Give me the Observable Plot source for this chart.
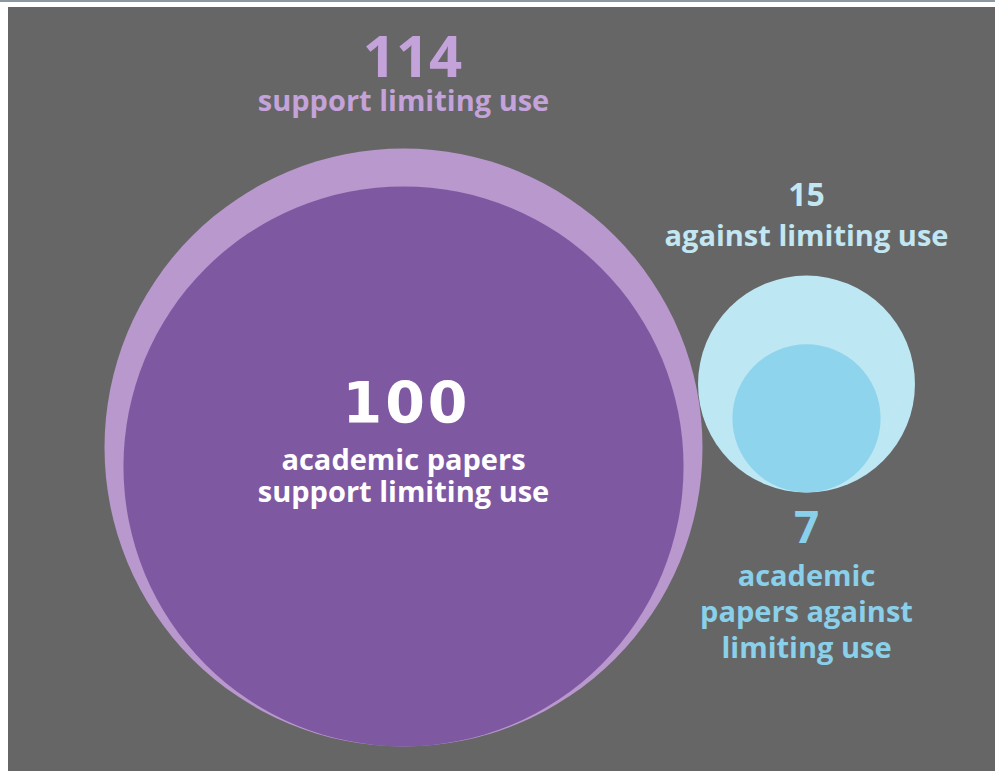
<!DOCTYPE html>
<html>
<head>
<meta charset="utf-8">
<script src="https://cdn.jsdelivr.net/npm/d3@7"></script>
<script src="https://cdn.jsdelivr.net/npm/@observablehq/plot@0.6"></script>
<style>
  html, body { margin: 0; padding: 0; background: #ffffff; }
  body { width: 995px; height: 771px; overflow: hidden; border-top: 2px solid #8c979f; box-sizing: border-box; }
  #chart { position: absolute; left: 8px; top: 7px; width: 987px; height: 764px; background: #666666; }
  #chart svg { display: block; }
  #chart g[font-size="57"] text { letter-spacing: 3px; }
</style>
</head>
<body>
<div id="chart"></div>
<script>
// ---- data ----
const groups = ["support", "against"];
const totals = [114, 15];                 // outer circles
const academic = [100, 7];                // inner circles
const totalLabels = ["support limiting use", "against limiting use"];
const academicLabels = ["academic papers\nsupport limiting use", "academic\npapers against\nlimiting use"];

// ---- styles / layout (svg pixels) ----
const W = 987, H = 764;
const colors = {
  support: {outer: "#b998cd", inner: "#7f58a2", topText: "#c4a2da", innerText: "#ffffff"},
  against: {outer: "#bee7f4", inner: "#8ed4ec", topText: "#c3e6f3", innerText: "#8ad0ea"}
};
const layout = {
  support: {bottom: 739, numY: 69, labelY: 103, innerNumY: 415, innerLabelY: 494, innerLH: 1.07,
            innerNumSize: 57, innerNumDx: 3, innerNumFont: "'DejaVu Sans', sans-serif", topNumSize: 58, topNumDx: 9},
  against: {bottom: 485, numY: 198, labelY: 238, innerNumY: 535, innerLabelY: 650, innerLH: 1.24,
            innerNumSize: 44, innerNumDx: 0, innerNumFont: "'Open Sans', sans-serif", topNumSize: 32, topNumDx: 0}
};
const rMax = 299;
const rScale = d3.scaleSqrt().domain([0, d3.max(totals)]).range([0, rMax]);

const rows = groups.map((g, i) => ({
  group: g, total: totals[i], academic: academic[i],
  totalLabel: totalLabels[i], academicLabel: academicLabels[i]
}));

const marks = rows.flatMap(d => {
  const L = layout[d.group], C = colors[d.group];
  const one = [d];
  return [
    Plot.dot(one, {x: "group", y: r => L.bottom - rScale(r.total), r: "total", fill: C.outer}),
    Plot.dot(one, {x: "group", y: r => L.bottom - rScale(r.academic), r: "academic", fill: C.inner}),
    Plot.text(one, {x: "group", y: () => L.numY, text: r => String(r.total), fill: C.topText,
      fontSize: L.topNumSize, fontWeight: 700, lineAnchor: "bottom", dx: L.topNumDx}),
    Plot.text(one, {x: "group", y: () => L.labelY, text: "totalLabel", fill: C.topText,
      fontSize: 29, fontWeight: 700, lineAnchor: "bottom"}),
    Plot.text(one, {x: "group", y: () => L.innerNumY, text: r => String(r.academic), fill: C.innerText,
      fontSize: L.innerNumSize, fontWeight: 700, lineAnchor: "bottom", dx: L.innerNumDx,
      fontFamily: L.innerNumFont}),
    Plot.text(one, {x: "group", y: () => L.innerLabelY, text: "academicLabel", fill: C.innerText,
      fontSize: 29, fontWeight: 700, lineAnchor: "bottom", lineHeight: L.innerLH})
  ];
});

const chart = Plot.plot({
  width: W, height: H, margin: 0,
  x: {type: "point", domain: groups, range: [395, 798.5], padding: 0, axis: null},
  y: {domain: [0, H], range: [0, H], axis: null},
  r: {type: "sqrt", domain: [0, d3.max(totals)], range: [0, rMax]},
  style: {background: "#666666", fontFamily: "'Open Sans', sans-serif", overflow: "visible"},
  marks
});
document.getElementById("chart").appendChild(chart);
</script>
</body>
</html>
